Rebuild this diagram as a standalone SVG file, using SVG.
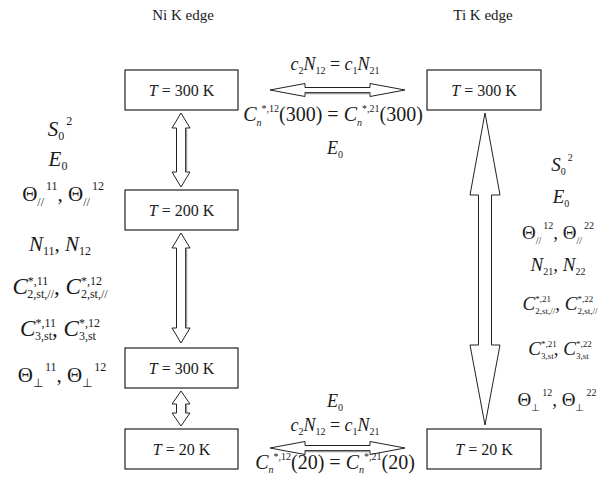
<svg xmlns="http://www.w3.org/2000/svg" width="598" height="477" viewBox="0 0 598 477">
<style>
text{font-family:"Liberation Serif","Times New Roman",serif;fill:#1a1a1a;text-anchor:middle}
.h{font-size:15px}
.b{font-size:16px}
.f{font-size:18px}
.g{font-size:20px}
.L{font-size:21px}
.LC{font-size:23px}
.R{font-size:19px}
.RC{font-size:19px}
.i{font-style:italic}
.s{font-size:10px}
.sL{font-size:12px}
.sR{font-size:10px}
.sRC{font-size:9px}
.box{fill:#fff;stroke:#222;stroke-width:1.2}
.arr{fill:#fff;stroke:#222;stroke-width:1}
.sh{stroke:#999;stroke-width:1.5}
</style>
<rect width="598" height="477" fill="#fff"/>
<text class="h" x="183" y="20">Ni K edge</text>
<text class="h" x="483" y="20">Ti K edge</text>

<g id="connectors">
<polygon class="arr" points="181,113 190,128 185.5,128 185.5,172 190,172 181,187 172,172 176.5,172 176.5,128 172,128"/>
<line class="sh" x1="186.5" y1="129" x2="186.5" y2="171"/>
<polygon class="arr" points="181,233 190,248 185.5,248 185.5,328 190,328 181,343 172,328 176.5,328 176.5,248 172,248"/>
<line class="sh" x1="186.5" y1="249" x2="186.5" y2="327"/>
<polygon class="arr" points="181,391 190,404 185.5,404 185.5,413 190,413 181,426 172,413 176.5,413 176.5,404 172,404"/>
<line class="sh" x1="186.5" y1="405" x2="186.5" y2="412"/>
<polygon class="arr" points="485,113 500,195 491.5,195 491.5,345 500,345 485,425 470,345 478.5,345 478.5,195 470,195"/>
<polygon class="arr" points="270,90 305,83.5 305,87.5 370,87.5 370,83.5 405,90 370,96.5 370,92.5 305,92.5 305,96.5"/>
<line class="sh" x1="306" y1="93.5" x2="369" y2="93.5"/>
<polygon class="arr" points="270,448 305,441.5 305,445.5 370,445.5 370,441.5 405,448 370,454.5 370,450.5 305,450.5 305,454.5"/>
<line class="sh" x1="306" y1="451.5" x2="369" y2="451.5"/>
</g>

<g id="ni300"><rect class="box" x="125" y="70" width="113" height="40"/><text class="b" x="181.5" y="96"><tspan class="i">T</tspan> = 300 K</text></g>
<g id="ni200"><rect class="box" x="125" y="190" width="113" height="40"/><text class="b" x="181.5" y="216"><tspan class="i">T</tspan> = 200 K</text></g>
<g id="ni300b"><rect class="box" x="125" y="348" width="113" height="40"/><text class="b" x="181.5" y="374"><tspan class="i">T</tspan> = 300 K</text></g>
<g id="ni20"><rect class="box" x="125" y="429" width="113" height="40"/><text class="b" x="181.5" y="455"><tspan class="i">T</tspan> = 20 K</text></g>
<g id="ti300"><rect class="box" x="427" y="70" width="114" height="40"/><text class="b" x="484" y="96"><tspan class="i">T</tspan> = 300 K</text></g>
<g id="ti20"><rect class="box" x="427" y="429" width="114" height="40"/><text class="b" x="484" y="455"><tspan class="i">T</tspan> = 20 K</text></g>

<g id="top-link">
<text class="f" x="335" y="70"><tspan class="i">c</tspan><tspan class="s" dy="4">2</tspan><tspan class="i" dy="-4">N</tspan><tspan class="s" dy="4">12</tspan><tspan dy="-4"> = </tspan><tspan class="i">c</tspan><tspan class="s" dy="4">1</tspan><tspan class="i" dy="-4">N</tspan><tspan class="s" dy="4">21</tspan></text>
<text class="g" x="333" y="121"><tspan class="i">C</tspan><tspan class="s i" dy="5">n</tspan><tspan class="s" dy="-14">*,12</tspan><tspan dy="9">(300) = </tspan><tspan class="i">C</tspan><tspan class="s i" dy="5">n</tspan><tspan class="s" dy="-14">*,21</tspan><tspan dy="9">(300)</tspan></text>
<text class="f" x="335" y="154"><tspan class="i">E</tspan><tspan class="s" dy="4">0</tspan></text>
</g>

<g id="bottom-link">
<text class="f" x="335" y="407"><tspan class="i">E</tspan><tspan class="s" dy="4">0</tspan></text>
<text class="f" x="335" y="431"><tspan class="i">c</tspan><tspan class="s" dy="4">2</tspan><tspan class="i" dy="-4">N</tspan><tspan class="s" dy="4">12</tspan><tspan dy="-4"> = </tspan><tspan class="i">c</tspan><tspan class="s" dy="4">1</tspan><tspan class="i" dy="-4">N</tspan><tspan class="s" dy="4">21</tspan></text>
<text class="g" x="335" y="469"><tspan class="i">C</tspan><tspan class="s i" dy="4">n</tspan><tspan class="s" dy="-13">*,12</tspan><tspan dy="9">(20) = </tspan><tspan class="i">C</tspan><tspan class="s i" dy="4">n</tspan><tspan class="s" dy="-13">*,21</tspan><tspan dy="9">(20)</tspan></text>
</g>

<g id="ni-params">
<text class="L" x="60" y="136"><tspan class="i">S</tspan><tspan class="sL" dy="4">0</tspan><tspan class="sL" dy="-15" dx="2">2</tspan></text>
<text class="L" x="58" y="166"><tspan class="i">E</tspan><tspan class="sL" dy="4">0</tspan></text>
<text class="L" x="63" y="201">Θ<tspan class="sL" dy="5">//</tspan><tspan class="sL" dy="-16" dx="2">11</tspan><tspan dy="11">, Θ</tspan><tspan class="sL" dy="5">//</tspan><tspan class="sL" dy="-16" dx="2">12</tspan></text>
<text class="L" x="60" y="251"><tspan class="i">N</tspan><tspan class="sL" dy="4">11</tspan><tspan dy="-4">, </tspan><tspan class="i">N</tspan><tspan class="sL" dy="4">12</tspan></text>
<text class="LC" x="60" y="294"><tspan class="i">C</tspan><tspan class="sL" dy="-9">*,11</tspan><tspan class="sL" dy="13" dx="-21">2,st,//</tspan><tspan dy="-4">, </tspan><tspan class="i">C</tspan><tspan class="sL" dy="-9">*,12</tspan><tspan class="sL" dy="13" dx="-21">2,st,//</tspan></text>
<text class="LC" x="60" y="336"><tspan class="i">C</tspan><tspan class="sL" dy="-9">*,11</tspan><tspan class="sL" dy="13" dx="-21">3,st</tspan><tspan dy="-4">, </tspan><tspan class="i">C</tspan><tspan class="sL" dy="-9">*,12</tspan><tspan class="sL" dy="13" dx="-21">3,st</tspan></text>
<text class="L" x="62" y="382">Θ<tspan class="sL" dy="5">⊥</tspan><tspan class="sL" dy="-16" dx="2">11</tspan><tspan dy="11">, Θ</tspan><tspan class="sL" dy="5">⊥</tspan><tspan class="sL" dy="-16" dx="2">12</tspan></text>
</g>

<g id="ti-params">
<text class="R" x="562" y="171"><tspan class="i">S</tspan><tspan class="sR" dy="4">0</tspan><tspan class="sR" dy="-14" dx="2">2</tspan></text>
<text class="R" x="561" y="203"><tspan class="i">E</tspan><tspan class="sR" dy="4">0</tspan></text>
<text class="R" x="558" y="239">Θ<tspan class="sR" dy="5">//</tspan><tspan class="sR" dy="-15" dx="2">12</tspan><tspan dy="10">, Θ</tspan><tspan class="sR" dy="5">//</tspan><tspan class="sR" dy="-15" dx="2">22</tspan></text>
<text class="R" x="558" y="271"><tspan class="i">N</tspan><tspan class="sR" dy="4">21</tspan><tspan dy="-4">, </tspan><tspan class="i">N</tspan><tspan class="sR" dy="4">22</tspan></text>
<text class="RC" x="560" y="310"><tspan class="i">C</tspan><tspan class="sRC" dy="-8">*,21</tspan><tspan class="sRC" dy="12" dx="-15.7">2,st,//</tspan><tspan dy="-4">, </tspan><tspan class="i">C</tspan><tspan class="sRC" dy="-8">*,22</tspan><tspan class="sRC" dy="12" dx="-15.7">2,st,//</tspan></text>
<text class="RC" x="560" y="355"><tspan class="i">C</tspan><tspan class="sRC" dy="-8">*,21</tspan><tspan class="sRC" dy="12" dx="-15.7">3,st</tspan><tspan dy="-4">, </tspan><tspan class="i">C</tspan><tspan class="sRC" dy="-8">*,22</tspan><tspan class="sRC" dy="12" dx="-15.7">3,st</tspan></text>
<text class="R" x="557" y="406">Θ<tspan class="sR" dy="5">⊥</tspan><tspan class="sR" dy="-15" dx="2">12</tspan><tspan dy="10">, Θ</tspan><tspan class="sR" dy="5">⊥</tspan><tspan class="sR" dy="-15" dx="2">22</tspan></text>
</g>
</svg>
